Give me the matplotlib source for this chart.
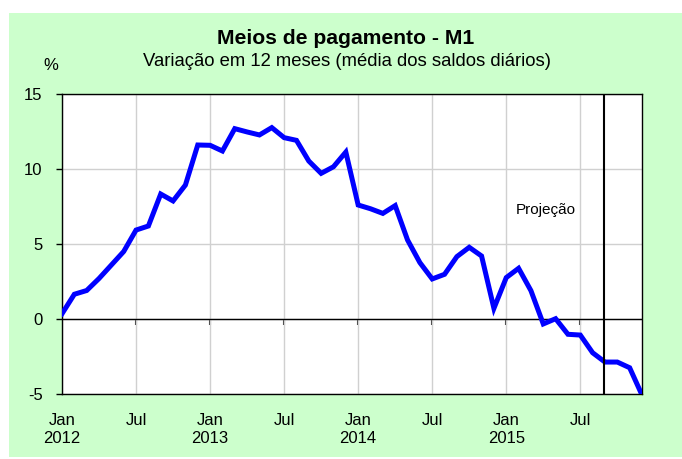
import numpy as np
import matplotlib.pyplot as plt
from matplotlib.patches import Rectangle

plt.rcParams['font.family'] = ['Liberation Sans', 'DejaVu Sans']
plt.rcParams['axes.unicode_minus'] = False

# monthly values, Jan 2012 .. Dec 2015 (% change over 12 months)
months = np.arange(48)
m1_growth = [
    0.35, 1.65, 1.9, 2.7, 3.6, 4.5, 5.93, 6.2, 8.33, 7.87, 8.93, 11.6,
    11.58, 11.2, 12.69, 12.47, 12.27, 12.76, 12.09, 11.91, 10.53, 9.71, 10.15, 11.13,
    7.6, 7.35, 7.04, 7.56, 5.27, 3.76, 2.67, 2.98, 4.16, 4.78, 4.2, 0.71,
    2.76, 3.38, 1.89, -0.33, 0.02, -1.02, -1.07, -2.25, -2.87, -2.87, -3.25, -5.07,
]
tick_months = [0, 6, 12, 18, 24, 30, 36, 42]
tick_labels = ['Jan\n2012', 'Jul', 'Jan\n2013', 'Jul', 'Jan\n2014', 'Jul', 'Jan\n2015', 'Jul']
projection_start = 43.9

fig = plt.figure(figsize=(6.82, 4.59), dpi=100, facecolor='white')
fig.patches.append(Rectangle((9 / 682, 2 / 459), 1, 444 / 459, transform=fig.transFigure,
                             facecolor='#CCFFCC', edgecolor='none', zorder=-10))

ax = fig.add_axes([62 / 682, 65 / 459, 580 / 682, 300 / 459])
ax.set_zorder(1)
ax.set_facecolor('white')
ax.axhline(0, color='black', linewidth=1.0, zorder=2)
ax.plot(months, m1_growth, color='#0000FF', linewidth=3.6, solid_joinstyle='miter', zorder=3)
ax.axvline(projection_start, color='black', linewidth=1.5, zorder=4)

ax.set_xlim(0, 47)
ax.set_ylim(-5, 15)
ax.set_yticks([-5, 0, 5, 10, 15])
ax.set_xticks(tick_months)
ax.set_xticklabels(tick_labels, fontsize=12, linespacing=1.3)
ax.tick_params(axis='x', length=0, pad=13.5)
ax.tick_params(axis='y', length=4, width=1, pad=10, labelsize=12, direction='out')
ax.grid(True, color='#D0D0D0', linewidth=1.0)
ax.set_axisbelow(True)
for s in ax.spines.values():
    s.set_linewidth(1.0)
    s.set_color('black')

# small ticks hanging under the zero line, like the excel category axis
zero_axis = ax.secondary_xaxis(0.25)
zero_axis.set_xticks(tick_months[1:])
zero_axis.set_xticklabels([])
zero_axis.tick_params(length=4, width=1.5, color='#333333', direction='out')
zero_axis.spines['bottom'].set_visible(False)

ax.text(36.8, 7.27, 'Projeção', fontsize=11, ha='left', va='center')

fig.text(346 / 682, 1 - 38 / 459, 'Meios de pagamento - M1', fontsize=15.2, fontweight='bold',
         ha='center', va='center')
fig.text(347 / 682, 1 - 61 / 459, 'Variação em 12 meses (média dos saldos diários)', fontsize=13.3,
         ha='center', va='center')
fig.text(51 / 682, 1 - 65 / 459, '%', fontsize=12, ha='center', va='center')

fig.savefig('out.png', dpi=100, facecolor=fig.get_facecolor())
